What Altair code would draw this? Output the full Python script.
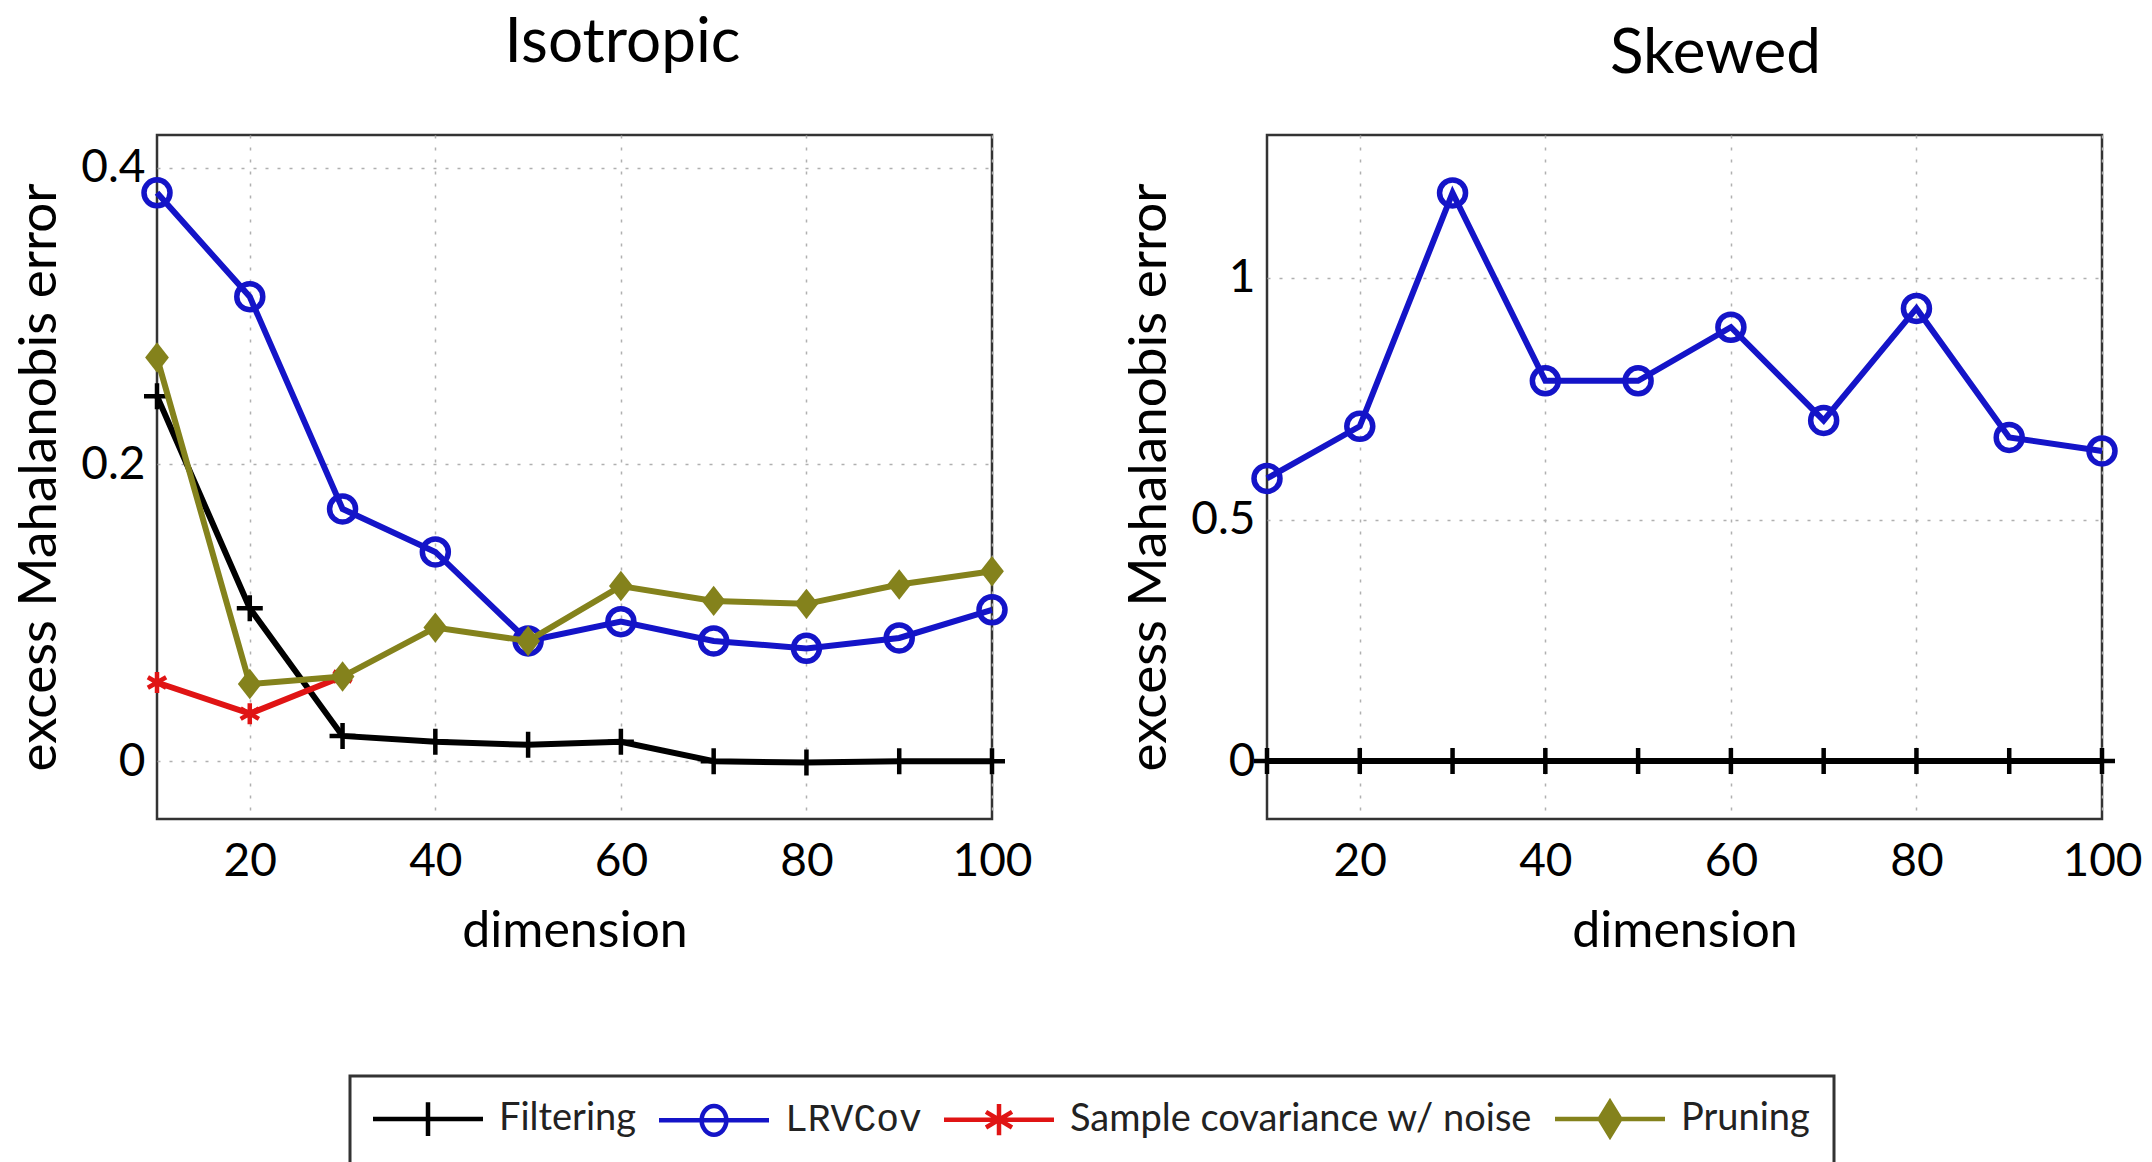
import altair as alt
import pandas as pd

# ---------------- data ----------------
dims = [10, 20, 30, 40, 50, 60, 70, 80, 90, 100]
sample_dims = [10, 20, 30]

series_names = ["Filtering", "LRVCov", "Sample covariance w/ noise", "Pruning"]
series_colors = ["#000000", "#1414c8", "#e01414", "#84821c"]

iso_filtering = [0.246, 0.103, 0.017, 0.013, 0.011, 0.013, 0.000, -0.001, 0.000, 0.000]
iso_lrvcov = [0.383, 0.313, 0.170, 0.141, 0.081, 0.094, 0.081, 0.076, 0.083, 0.102]
iso_sample = [0.053, 0.032, 0.057]
iso_pruning = [0.272, 0.052, 0.057, 0.090, 0.081, 0.118, 0.108, 0.106, 0.119, 0.128]

skew_filtering = [0.0, 0.0, 0.0, 0.0, 0.0, 0.0, 0.0, 0.0, 0.0, 0.0]
skew_lrvcov = [0.585, 0.693, 1.176, 0.787, 0.787, 0.898, 0.705, 0.937, 0.670, 0.642]

x_ticks = [20, 40, 60, 80, 100]
iso_y_ticks = [0, 0.2, 0.4]
skew_y_ticks = [0, 0.5, 1]
iso_y_domain = [-0.039, 0.422]
skew_y_domain = [-0.12, 1.296]


def long_df(parts):
    rows = []
    for name, xs, ys in parts:
        for xv, yv in zip(xs, ys):
            rows.append({"series": name, "dim": xv, "err": yv})
    return pd.DataFrame(rows)


iso_df = long_df([
    ("Filtering", dims, iso_filtering),
    ("LRVCov", dims, iso_lrvcov),
    ("Sample covariance w/ noise", sample_dims, iso_sample),
    ("Pruning", dims, iso_pruning),
])
skew_df = long_df([
    ("Filtering", dims, skew_filtering),
    ("LRVCov", dims, skew_lrvcov),
])

# ---------------- styling ----------------
FONT = "Lato"
PLOT_W, PLOT_H = 835, 684

marker_style = {
    "Filtering": dict(shape="M-1,0L1,0M0,-1L0,1", filled=False, size=676, strokeWidth=4.5),
    "LRVCov": dict(shape="circle", filled=False, size=676, strokeWidth=5.5),
    "Sample covariance w/ noise": dict(
        shape="M0,-1L0,1M-0.87,-0.5L0.87,0.5M-0.87,0.5L0.87,-0.5",
        filled=False, size=441, strokeWidth=4.5),
    "Pruning": dict(shape="M0,-1.15L0.9,0L0,1.15L-0.9,0Z", filled=True, size=700, strokeWidth=1),
}

legend_paths = [
    "M-4.23,0L4.23,0M0,-1.3L0,1.3",
    "M-4.23,0L4.23,0"
    "M0.95,0A0.95,1.1,0,1,1,-0.95,0A0.95,1.1,0,1,1,0.95,0Z"
    "M0.95,0A0.95,1.1,0,1,0,-0.95,0A0.95,1.1,0,1,0,0.95,0Z",
    "M-4.23,0L4.23,0M0,-1.2L0,1.2M-1,-0.6L1,0.6M-1,0.6L1,-0.6",
    "M-4.23,0L4.23,0M0,-1.3L0.8,0L0,1.3L-0.8,0ZM0,-0.95L0.58,0L0,0.95L-0.58,0Z"
    "M0,-0.6L0.37,0L0,0.6L-0.37,0ZM0,-0.25L0.15,0L0,0.25L-0.15,0Z",
]

color_scale = alt.Scale(domain=series_names, range=series_colors)


def panel(df, title, ydomain, yticks, t_offset, t_dx, with_legend):
    x = alt.X("dim:Q", scale=alt.Scale(domain=[10, 100], nice=False, zero=False),
              axis=alt.Axis(values=x_ticks, title="dimension", labelPadding=20,
                            titlePadding=22, titleFontSize=50, labelFlush=False,
                            labelOverlap=False))
    y = alt.Y("err:Q", scale=alt.Scale(domain=ydomain, nice=False, zero=False),
              axis=alt.Axis(values=yticks, format=".2~f", title="excess Mahalanobis error",
                            labelPadding=12, titlePadding=14, titleFontSize=53,
                            labelFlush=False, labelOverlap=False))
    color = alt.Color("series:N", scale=color_scale, legend=None)
    base = alt.Chart(df).encode(x=x, y=y, color=color)
    present = set(df["series"])
    layers = []
    if with_legend:
        leg = alt.Legend(
            title=None, orient="none", legendX=193, legendY=941, direction="horizontal",
            columns=4, fillColor="white", strokeColor="#333333", padding=24,
            labelFont={"expr": "(datum.value == 'LRVCov' || datum.label == 'LRVCov') ? 'Liberation Mono' : 'Lato'"},
            labelFontSize=38, labelColor="#222222",
            symbolOffset=35, labelOffset=52, columnPadding=13,
            symbolSize=676, symbolStrokeWidth=4.5, labelLimit=800,
        )
        leg_layer = alt.Chart(df).transform_filter("false").mark_point(
            filled=False, size=676, strokeWidth=4.5, opacity=1
        ).encode(
            x=alt.X("dim:Q"), y=alt.Y("err:Q"),
            color=alt.Color("series:N", scale=color_scale, legend=leg),
            shape=alt.Shape("series:N", scale=alt.Scale(domain=series_names, range=legend_paths),
                            legend=leg),
        )
        layers.append(leg_layer)
    for name in series_names:
        if name not in present:
            continue
        sub = base.transform_filter(alt.datum.series == name)
        layers.append(sub.mark_line(strokeWidth=6, clip=False))
        st = marker_style[name]
        layers.append(sub.mark_point(shape=st["shape"], filled=st["filled"], size=st["size"],
                                     strokeWidth=st["strokeWidth"], opacity=1))
    return alt.layer(*layers).properties(
        width=PLOT_W, height=PLOT_H,
        title=alt.TitleParams(text=title, fontSize=62, font=FONT, fontWeight="normal",
                              color="black", offset=t_offset, dx=t_dx,
                              baseline="alphabetic", frame="group", anchor="middle"),
    )


left = panel(iso_df, "Isotropic", iso_y_domain, iso_y_ticks, 11, 48, True)
right = panel(skew_df, "Skewed", skew_y_domain, skew_y_ticks, 0, 31, False)

chart = alt.hconcat(left, right, spacing=275, bounds="flush").properties(
    padding={"left": 12, "top": 10, "right": 0, "bottom": 0},
    background="white",
).configure_view(
    stroke="#333333", strokeWidth=2.5
).configure_axis(
    labelFont=FONT, labelFontSize=46, labelColor="black",
    titleFont=FONT, titleFontWeight="normal", titleColor="black",
    domain=False, ticks=False, grid=True, gridColor="#b0b0b0", gridDash=[3, 9], gridWidth=1.5,
).configure_legend(
    strokeWidth=3
)

chart.save("out.html", embed_options={"renderer": "svg", "actions": False})
